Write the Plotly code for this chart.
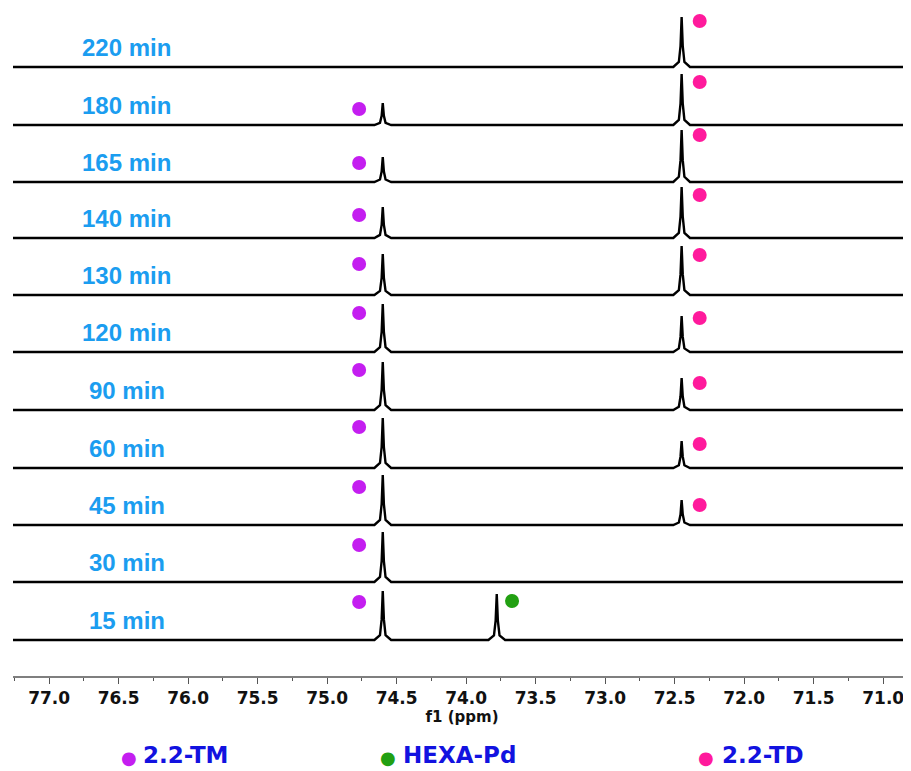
import numpy as np
import plotly.graph_objects as go

# ---------------- data ----------------
times = ["220 min", "180 min", "165 min", "140 min", "130 min", "120 min",
         "90 min", "60 min", "45 min", "30 min", "15 min"]
# vertical offset of each spectrum baseline (stack units)
offsets = [609, 551, 494, 438, 381, 324, 266, 208, 151, 94, 36]

# peak positions (ppm)
ppm_tm = 74.60    # 2.2-TM
ppm_hexa = 73.78  # HEXA-Pd
ppm_td = 72.45    # 2.2-TD

# peak intensities per spectrum (same units as offsets)
tm_height = [0, 22, 25, 31, 41, 48, 48, 50, 50, 50, 49]
hexa_height = [0, 0, 0, 0, 0, 0, 0, 0, 0, 0, 46]
td_height = [50, 51, 52, 51, 49, 36, 32, 27, 25, 0, 0]

# marker dots (position in ppm, height above baseline)
dot_tm_ppm = 74.77
dot_tm_y = [None, 16, 19, 23, 31, 39, 40, 41, 38, 37, 38]
dot_hexa_ppm = 73.67
dot_hexa_y = [None, None, None, None, None, None, None, None, None, None, 39]
dot_td_ppm = 72.32
dot_td_y = [46, 43, 47, 43, 40, 34, 27, 24, 20, None, None]

ppm_left, ppm_right = 77.26, 70.80
tick_vals = [77.0, 76.5, 76.0, 75.5, 75.0, 74.5, 74.0, 73.5, 73.0, 72.5, 72.0, 71.5, 71.0]
tick_text = ["77.0", "76.5", "76.0", "75.5", "75.0", "74.5", "74.0", "73.5",
             "73.0", "72.5", "72.0", "71.5", "71.0"]

legend_names = ["2.2-TM", "HEXA-Pd", "2.2-TD"]

# ---------------- style ----------------
C_TM = "#c41ef0"
C_HEXA = "#22a012"
C_TD = "#ff1a9c"
C_LABEL = "#1b9df0"
C_LEGEND = "#1212e0"

# page has an 8px body margin; figure is sized to compensate
FIG_W, FIG_H = 903, 763
PLOT_H = 668

# narrow line-shape template for a spike (ppm offsets, fraction of height)
shape_dx = [-0.06, -0.02, -0.008, 0.0, 0.008, 0.02, 0.06]
shape_f = [0.0, 0.10, 0.42, 1.0, 0.42, 0.10, 0.0]

fig = go.Figure()

for i, name in enumerate(times):
    base = offsets[i]
    xs = [ppm_left]
    ys = [base]
    peaks = sorted(
        [(p, h) for p, h in ((ppm_tm, tm_height[i]), (ppm_hexa, hexa_height[i]), (ppm_td, td_height[i])) if h > 0],
        key=lambda t: -t[0])
    for p, h in peaks:
        for dx, f in zip(shape_dx, shape_f):
            xs.append(p - dx)
            ys.append(base + f * h)
    xs.append(ppm_right)
    ys.append(base)
    fig.add_trace(go.Scatter(x=xs, y=ys, mode="lines",
                             line=dict(color="black", width=2.4),
                             showlegend=False, hoverinfo="skip"))

def add_dots(ppm, heights, color):
    xs, ys = [], []
    for i, h in enumerate(heights):
        if h is not None:
            xs.append(ppm)
            ys.append(offsets[i] + h)
    fig.add_trace(go.Scatter(x=xs, y=ys, mode="markers",
                             marker=dict(color=color, size=14),
                             showlegend=False, hoverinfo="skip"))

add_dots(dot_tm_ppm, dot_tm_y, C_TM)
add_dots(dot_hexa_ppm, dot_hexa_y, C_HEXA)
add_dots(dot_td_ppm, dot_td_y, C_TD)

# time labels
for i, name in enumerate(times):
    fig.add_annotation(x=76.44, y=offsets[i] + 20, xref="x", yref="y",
                       text=name, showarrow=False, xanchor="center", yanchor="middle",
                       font=dict(family="Liberation Sans, Arial", size=24, color=C_LABEL, weight="bold"))

# bottom legend
W = 898.0
def px(xp):
    return (xp - 13) / W
def py(yp):
    return (676 - yp) / float(PLOT_H)
leg_dot_x = [129, 388, 706]
leg_txt_x = [141, 401, 720]
leg_cols = [C_TM, C_HEXA, C_TD]
for k in range(3):
    fig.add_annotation(x=px(leg_dot_x[k]), y=py(757), xref="paper", yref="paper",
                       text="●", showarrow=False, xanchor="center", yanchor="middle",
                       font=dict(family="DejaVu Sans", size=18, color=leg_cols[k]))
    fig.add_annotation(x=px(leg_txt_x[k]), y=py(755), xref="paper", yref="paper",
                       text=legend_names[k], showarrow=False, xanchor="left", yanchor="middle",
                       font=dict(family="DejaVu Sans", size=23, color=C_LEGEND, weight="bold"))

fig.update_layout(
    width=FIG_W, height=FIG_H,
    margin=dict(l=5, r=0, t=0, b=FIG_H - PLOT_H),
    paper_bgcolor="white", plot_bgcolor="white",
    showlegend=False,
    xaxis=dict(range=[ppm_left, ppm_right], showgrid=False, zeroline=False,
               showline=True, linecolor="#7f7f7f", linewidth=2,
               ticks="outside", ticklen=6, tickwidth=1, tickcolor="#555",
               tickvals=tick_vals, ticktext=tick_text,
               tickfont=dict(family="DejaVu Sans", size=17, color="#111", weight="bold"),
               minor=dict(dtick=0.25, tick0=77.0, ticks="outside", ticklen=3, tickcolor="#555", showgrid=False),
               title=dict(text="f1 (ppm)", standoff=2,
                          font=dict(family="DejaVu Sans", size=15, color="#111", weight="bold"))),
    yaxis=dict(range=[0, PLOT_H], visible=False, fixedrange=True),
)

fig.write_html("out.html")
